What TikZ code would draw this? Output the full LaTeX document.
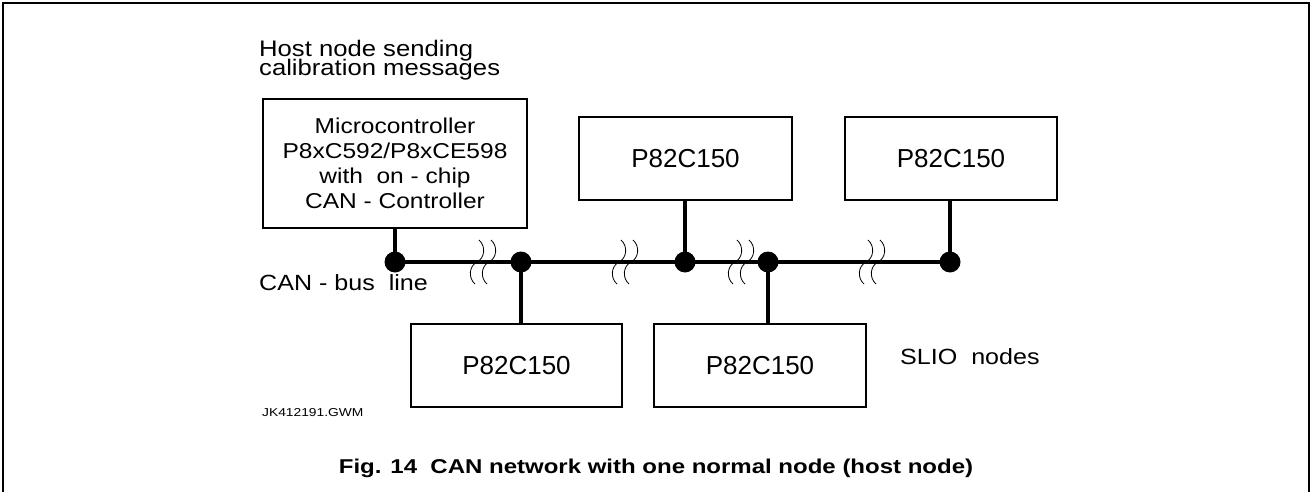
\documentclass[tikz,border=0pt]{standalone}
\usepackage{fontspec}
\setmainfont{Liberation Sans}
\newfontfamily\wideA[FakeStretch=1.14]{Liberation Sans}
\newfontfamily\wideB[FakeStretch=1.2]{Liberation Sans}
\newcommand\tightlines{\lineskiplimit=-100pt\relax}
\begin{document}
\begin{tikzpicture}[x=1pt,y=-1pt,
  frame/.style={line width=2pt},
  box/.style={draw, line width=1.3pt, inner sep=0pt, align=center},
  dotnode/.style={circle, fill=black, inner sep=0pt, minimum size=21pt},
  bus/.style={line width=4pt},
  conn/.style={line width=4pt},
  brk/.style={line width=0.8pt},
  lbl/.style={inner sep=0pt, anchor=west, align=left},
  pfont/.style={font={\fontsize{26}{30}\selectfont}}
]
\useasboundingbox (0,0) rectangle (1311,492);
\draw[frame] (3,492) -- (3,3) -- (1309,3) -- (1309,492);

% label of host
\node[lbl, font={\wideA\fontsize{22.5}{19.5}\selectfont\tightlines}] (hostlbl) at (259,60) {Host node sending\\calibration messages};

% boxes
\node[box, minimum width=264pt, minimum height=129pt, font={\wideA\fontsize{21.5}{25}\selectfont\tightlines}] (host) at (395,163.5)
  {Microcontroller\\P8xC592/P8xCE598\\with~~on - chip\\CAN - Controller};
\node[box, pfont, minimum width=213pt, minimum height=83pt] (t1) at (685.5,158.5) {P82C150};
\node[box, pfont, minimum width=212pt, minimum height=83pt] (t2) at (951,158.5) {P82C150};
\node[box, pfont, minimum width=211pt, minimum height=83pt] (b1) at (516.5,365.5) {P82C150};
\node[box, pfont, minimum width=212pt, minimum height=83pt] (b2) at (760,365.5) {P82C150};

% bus dots
\node[dotnode] (d1) at (395,262) {};
\node[dotnode] (d2) at (521,262) {};
\node[dotnode] (d3) at (685,262) {};
\node[dotnode] (d4) at (768,262) {};
\node[dotnode] (d5) at (950,262) {};

% bus line and stubs
\draw[bus] (d1.center) -- (d5.center);
\draw[conn] (host.south) -- (d1.center);
\draw[conn] (d3 |- t1.south) -- (d3.center);
\draw[conn] (d5 |- t2.south) -- (d5.center);
\draw[conn] (d2.center) -- (d2 |- b1.north);
\draw[conn] (d4.center) -- (d4 |- b2.north);

% breaks
\foreach \c in {483,625,741,872}{
  \foreach \o in {-6,6}{
    \draw[brk] ({\c+\o+2},240) .. controls ({\c+\o+9},246) and ({\c+\o+8},258) .. ({\c+\o},262)
                .. controls ({\c+\o-8},266) and ({\c+\o-9},278) .. ({\c+\o-2},284);
  }
}

% labels
\node[lbl, font={\wideA\fontsize{22}{24}\selectfont}] (buslbl) at (259,283) {CAN - bus~~line};
\node[lbl, font={\wideA\fontsize{22}{24}\selectfont}] (sliolbl) at (900,357) {SLIO~~nodes};
\node[lbl, font={\wideB\fontsize{11.5}{14}\selectfont}] (jk) at (262,413) {JK412191.GWM};
\node[inner sep=0pt, font={\wideB\bfseries\fontsize{20}{24}\selectfont}] (cap) at (656,468) {Fig. 14~~CAN network with one normal node (host node)};
\end{tikzpicture}
\end{document}
